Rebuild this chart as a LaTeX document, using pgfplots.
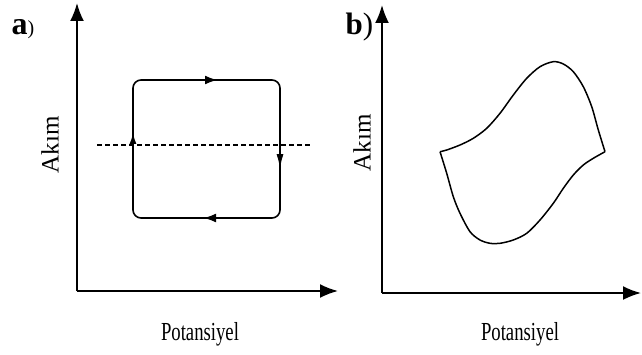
\documentclass[border=0pt]{standalone}
\usepackage{fontspec}
\setmainfont{Liberation Serif}
\usepackage{graphicx}
\usepackage{pgfplots}
\pgfplotsset{compat=1.18}
\usetikzlibrary{arrows.meta}

\pgfplotsset{
  panel/.style={
    scale only axis, axis lines=left,
    axis line style={line width=1.9bp, -{Latex[length=18bp,width=14bp]}},
    xtick=\empty, ytick=\empty, clip=false,
    anchor=south west,
  }
}

\begin{document}
\begin{tikzpicture}[x=1bp,y=1bp]
\useasboundingbox (0,0) rectangle (642,354);
% ---------- panel a
\begin{axis}[panel, at={(77bp,63bp)}, width=261bp, height=288bp,
  xmin=77, xmax=338, ymin=63, ymax=351]
\addplot[line width=1.6bp, rounded corners=8bp] coordinates
  {(200,274) (280,274) (280,136) (133,136) (133,274) (200,274)};
\addplot[line width=1.7bp, dash pattern=on 5bp off 3bp] coordinates {(97,209) (312,209)};
\addplot[line width=2.8bp, -{Latex[length=13bp,width=9bp]}] coordinates {(183,274) (218,274)};
\addplot[line width=2.3bp, -{Latex[length=16bp,width=7bp]}] coordinates {(280,234) (280,184)};
\addplot[line width=2.8bp, -{Latex[length=13bp,width=9bp]}] coordinates {(231,136) (203,136)};
\addplot[line width=2.3bp, -{Latex[length=12bp,width=7bp]}] coordinates {(133,187) (133,222)};
\node[anchor=base, font=\fontsize{26bp}{28bp}\selectfont] at (axis cs:200,14) {\scalebox{0.72}[1]{Potansiyel}};
\node[rotate=90, font=\fontsize{25bp}{28bp}\selectfont] at (axis cs:50,209) {Akım};
\node[anchor=base west, font=\fontsize{32bp}{34bp}\selectfont\bfseries] at (axis cs:8,319) {a{\fontsize{20bp}{22bp}\selectfont\mdseries)}};
\end{axis}
% ---------- panel b
\begin{axis}[panel, at={(382bp,61bp)}, width=259bp, height=288bp,
  xmin=382, xmax=641, ymin=61, ymax=349]
\addplot[line width=1.5bp, smooth, tension=0.5] coordinates {
 (440,202.3) (446.7,204) (460,209) (473.3,215.7) (486.7,225.7) (500,240.7)
 (513.3,259) (526.7,275.7) (540,287.3) (553.3,292.3) (563.3,290) (573.3,282.3)
 (583.3,267.3) (591.7,247.3) (598.3,224) (605,202.3)};
\addplot[line width=1.5bp, smooth, tension=0.5] coordinates {
 (605,202.3) (593.3,195.7) (583.3,189) (573.3,179) (563.3,165.7) (553.3,150.7)
 (540,134) (526.7,120.7) (513.3,114) (500,110.7) (490,110.7) (480,114)
 (470,122.3) (460,140.7) (453.3,157.3) (446.7,180.7) (440,202.3)};
\node[anchor=base, font=\fontsize{26bp}{28bp}\selectfont] at (axis cs:520,14) {\scalebox{0.72}[1]{Potansiyel}};
\node[rotate=90, font=\fontsize{25bp}{28bp}\selectfont] at (axis cs:362,211) {Akım};
\node[anchor=base west, font=\fontsize{31bp}{33bp}\selectfont\bfseries] at (axis cs:342,319) {b\mdseries)};
\end{axis}
\end{tikzpicture}
\end{document}
